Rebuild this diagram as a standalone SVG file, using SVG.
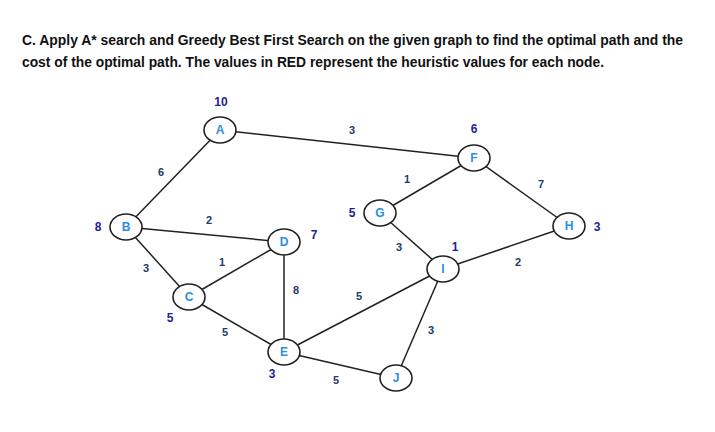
<svg xmlns="http://www.w3.org/2000/svg" width="715" height="432" viewBox="0 0 715 432">
<style>
.t{font-family:"Liberation Sans",Arial,sans-serif;font-weight:bold;font-size:14.5px;fill:#111}
.n ellipse{fill:#fff;stroke:#222;stroke-width:1.6}
.n text{font-family:"Liberation Sans",Arial,sans-serif;font-weight:bold;font-size:12px;fill:#2a8fe0;text-anchor:middle}
.h{font-family:"Liberation Sans",Arial,sans-serif;font-weight:bold;font-size:12px;fill:#1e1e9a;text-anchor:middle}
.w{font-family:"Liberation Sans",Arial,sans-serif;font-weight:bold;font-size:11px;fill:#223a6a;text-anchor:middle}
#edges line{stroke:#222;stroke-width:1.5}
</style>
<rect width="715" height="432" fill="#fff"/>
<text class="t" x="22" y="45" textLength="661" lengthAdjust="spacingAndGlyphs">C. Apply A* search and Greedy Best First Search on the given graph to find the optimal path and the</text>
<text class="t" x="22" y="67" textLength="582" lengthAdjust="spacingAndGlyphs">cost of the optimal path. The values in RED represent the heuristic values for each node.</text>
<g id="edges">
<line x1="220" y1="130" x2="474" y2="158"/>
<line x1="220" y1="130" x2="126" y2="227"/>
<line x1="126" y1="227" x2="284" y2="242"/>
<line x1="126" y1="227" x2="189" y2="297"/>
<line x1="189" y1="297" x2="284" y2="242"/>
<line x1="189" y1="297" x2="284" y2="352"/>
<line x1="284" y1="242" x2="284" y2="352"/>
<line x1="284" y1="352" x2="443" y2="269"/>
<line x1="284" y1="352" x2="396" y2="378"/>
<line x1="380" y1="213" x2="474" y2="158"/>
<line x1="380" y1="213" x2="443" y2="269"/>
<line x1="474" y1="158" x2="569" y2="226"/>
<line x1="443" y1="269" x2="569" y2="226"/>
<line x1="443" y1="269" x2="396" y2="378"/>
</g>
<g id="weights">
<text class="w" x="352" y="134">3</text>
<text class="w" x="161" y="176">6</text>
<text class="w" x="209" y="224">2</text>
<text class="w" x="146" y="272">3</text>
<text class="w" x="222" y="266">1</text>
<text class="w" x="225" y="336">5</text>
<text class="w" x="296" y="294">8</text>
<text class="w" x="359" y="300">5</text>
<text class="w" x="336" y="384">5</text>
<text class="w" x="407" y="183">1</text>
<text class="w" x="399" y="251">3</text>
<text class="w" x="541" y="188">7</text>
<text class="w" x="518" y="266">2</text>
<text class="w" x="431" y="334">3</text>
</g>
<g id="heuristics">
<text class="h" x="221" y="106">10</text>
<text class="h" x="98" y="231">8</text>
<text class="h" x="314" y="239">7</text>
<text class="h" x="170" y="322">5</text>
<text class="h" x="272" y="378">3</text>
<text class="h" x="352" y="217">5</text>
<text class="h" x="474" y="133">6</text>
<text class="h" x="597" y="231">3</text>
<text class="h" x="455" y="251">1</text>
</g>
<g id="A" class="n"><ellipse cx="220" cy="130" rx="16" ry="13"/><text x="220" y="134">A</text></g>
<g id="B" class="n"><ellipse cx="126" cy="227" rx="16" ry="13"/><text x="126" y="231">B</text></g>
<g id="C" class="n"><ellipse cx="189" cy="297" rx="16" ry="13"/><text x="189" y="301">C</text></g>
<g id="D" class="n"><ellipse cx="284" cy="242" rx="16" ry="13"/><text x="284" y="246">D</text></g>
<g id="E" class="n"><ellipse cx="284" cy="352" rx="16" ry="13"/><text x="284" y="356">E</text></g>
<g id="F" class="n"><ellipse cx="474" cy="158" rx="16" ry="13"/><text x="474" y="162">F</text></g>
<g id="G" class="n"><ellipse cx="380" cy="213" rx="16" ry="13"/><text x="380" y="217">G</text></g>
<g id="H" class="n"><ellipse cx="569" cy="226" rx="16" ry="13"/><text x="569" y="230">H</text></g>
<g id="I" class="n"><ellipse cx="443" cy="269" rx="16" ry="13"/><text x="443" y="273">I</text></g>
<g id="J" class="n"><ellipse cx="396" cy="378" rx="16" ry="13"/><text x="396" y="382">J</text></g>
</svg>
